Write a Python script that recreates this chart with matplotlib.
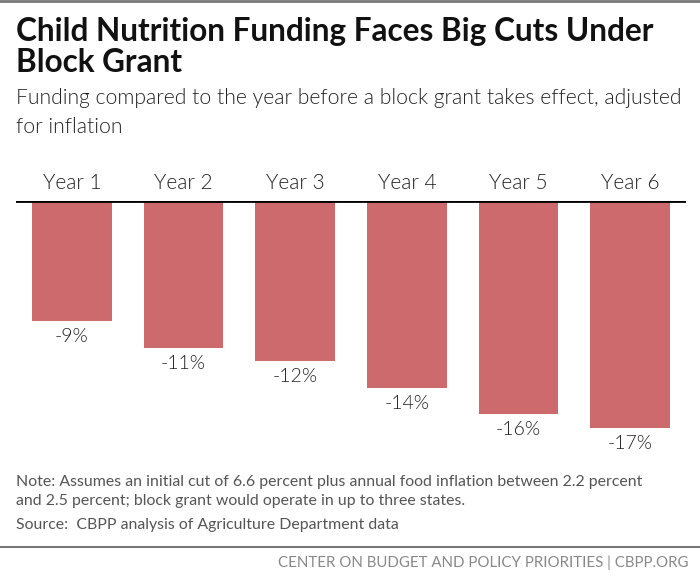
import matplotlib
matplotlib.use("Agg")
import matplotlib.pyplot as plt
from matplotlib.lines import Line2D

years = ["Year 1", "Year 2", "Year 3", "Year 4", "Year 5", "Year 6"]
change = [-9, -11, -12, -14, -16, -17]

bar_color = "#cd6a6e"
plt.rcParams["font.family"] = ["Lato", "DejaVu Sans"]
LIGHT = 300

fig = plt.figure(figsize=(7, 5.86), dpi=100)
W, H = 700, 586

# plot area: baseline at y=201px, bottom at 461px
ax = fig.add_axes([16 / W, 1 - 461 / H, 670 / W, 260 / H])
x = range(len(years))
ax.bar(x, change, width=0.716, color=bar_color, zorder=2)
ax.axhline(0, color="black", lw=2, zorder=3)
ax.set_xlim(-0.5, len(years) - 0.5)
ax.set_ylim(-19.5, 0)
ax.axis("off")

for i, (yr, v) in enumerate(zip(years, change)):
    ax.annotate(yr, (i, 0), xytext=(0, 6), textcoords="offset points",
                ha="center", va="bottom", fontsize=15, fontweight=LIGHT, color="#222222")
    ax.annotate(f"{v}%", (i, v), xytext=(0, -5), textcoords="offset points",
                ha="center", va="top", fontsize=14, fontweight=LIGHT, color="#222222")

# titles
fig.text(16 / W, 1 - 31 / H, "Child Nutrition Funding Faces Big Cuts Under",
         fontsize=22.7, fontweight="bold", color="#111111", va="center")
fig.text(16 / W, 1 - 63 / H, "Block Grant",
         fontsize=22.7, fontweight="bold", color="#111111", va="center")
fig.text(16 / W, 1 - 98 / H,
         "Funding compared to the year before a block grant takes effect, adjusted",
         fontsize=15.2, fontweight=LIGHT, color="#222222", va="center")
fig.text(16 / W, 1 - 127 / H, "for inflation",
         fontsize=15.2, fontweight=LIGHT, color="#222222", va="center")

# notes
note_c = "#555555"
fig.text(16 / W, 1 - 482 / H,
         "Note: Assumes an initial cut of 6.6 percent plus annual food inflation between 2.2 percent",
         fontsize=11.4, color=note_c, va="center")
fig.text(16 / W, 1 - 501 / H,
         "and 2.5 percent; block grant would operate in up to three states.",
         fontsize=11.4, color=note_c, va="center")
fig.text(16 / W, 1 - 525 / H, "Source:  CBPP analysis of Agriculture Department data",
         fontsize=11.4, color=note_c, va="center")

# rules and footer
fig.add_artist(Line2D([0, 1], [1 - 1 / H, 1 - 1 / H], color="#777777", lw=2,
                      transform=fig.transFigure))
fig.add_artist(Line2D([0, 1], [1 - 547 / H, 1 - 547 / H], color="#777777", lw=1.5,
                      transform=fig.transFigure))
fig.text(688 / W, 1 - 563 / H, "CENTER ON BUDGET AND POLICY PRIORITIES | CBPP.ORG",
         fontsize=10.8, color="#888888", ha="right", va="center")

fig.savefig("out.png", dpi=100)
